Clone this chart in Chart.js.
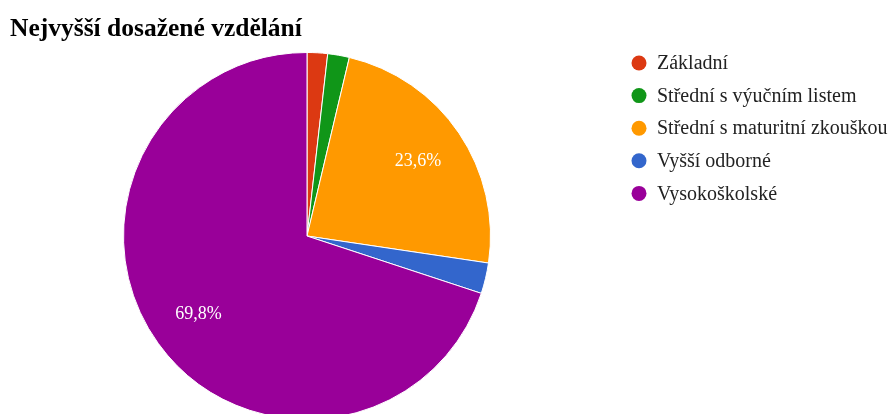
<!DOCTYPE html>
<html><head><meta charset="utf-8">
<script src="https://cdn.jsdelivr.net/npm/chart.js@4.4.0/dist/chart.umd.min.js"></script>
<style>
html,body{margin:0;padding:0;background:#fff;overflow:hidden;}
#wrap{width:895px;height:414px;overflow:hidden;position:relative;}
</style></head><body>
<div id="wrap"><canvas id="c" width="895" height="440"></canvas></div>
<script>
const chartTitle = 'Nejvyšší dosažené vzdělání';
const categories = ['Základní','Střední s výučním listem','Střední s maturitní zkouškou','Vyšší odborné','Vysokoškolské'];
const values = [1.8, 1.9, 23.6, 2.7, 69.8];
const colors = ['#dc3912','#109618','#ff9900','#3366cc','#990099'];

const overlay = {
  id:'overlay',
  afterDraw(chart){
    const ctx = chart.ctx;
    ctx.save();
    // title
    ctx.fillStyle = '#000';
    ctx.font = 'bold 25.5px "Liberation Serif", serif';
    ctx.textBaseline = 'alphabetic';
    ctx.textAlign = 'left';
    ctx.fillText(chartTitle, 10, 36);
    // legend
    ctx.font = '20px "Liberation Serif", serif';
    categories.forEach((c,i)=>{
      const y = 63 + i*32.6;
      ctx.beginPath();
      ctx.arc(639, y, 7.5, 0, Math.PI*2);
      ctx.fillStyle = colors[i];
      ctx.fill();
      ctx.fillStyle = '#222';
      ctx.textBaseline = 'middle';
      ctx.fillText(c, 657, y+1);
    });
    // slice labels
    const meta = chart.getDatasetMeta(0);
    const total = values.reduce((a,b)=>a+b,0);
    ctx.font = '18px "Liberation Serif", serif';
    ctx.fillStyle = '#fff';
    ctx.textAlign = 'center';
    ctx.textBaseline = 'middle';
    meta.data.forEach((arc,i)=>{
      const pct = values[i]/total*100;
      if (pct < 5) return;
      const p = arc.getProps(['startAngle','endAngle','x','y','outerRadius'], true);
      const mid = (p.startAngle+p.endAngle)/2;
      const r = p.outerRadius*0.73;
      ctx.fillText(values[i].toFixed(1).replace('.',',')+'%', p.x+Math.cos(mid)*r, p.y+Math.sin(mid)*r);
    });
    ctx.restore();
  }
};

new Chart(document.getElementById('c'), {
  type:'pie',
  data:{labels:categories, datasets:[{data:values, backgroundColor:colors, borderColor:'#fff', borderWidth:1}]},
  options:{
    responsive:false,
    animation:false,
    layout:{padding:{left:123,right:404,top:52,bottom:20}},
    plugins:{legend:{display:false}, title:{display:false}, tooltip:{enabled:false}}
  },
  plugins:[overlay]
});
</script>
</body></html>
